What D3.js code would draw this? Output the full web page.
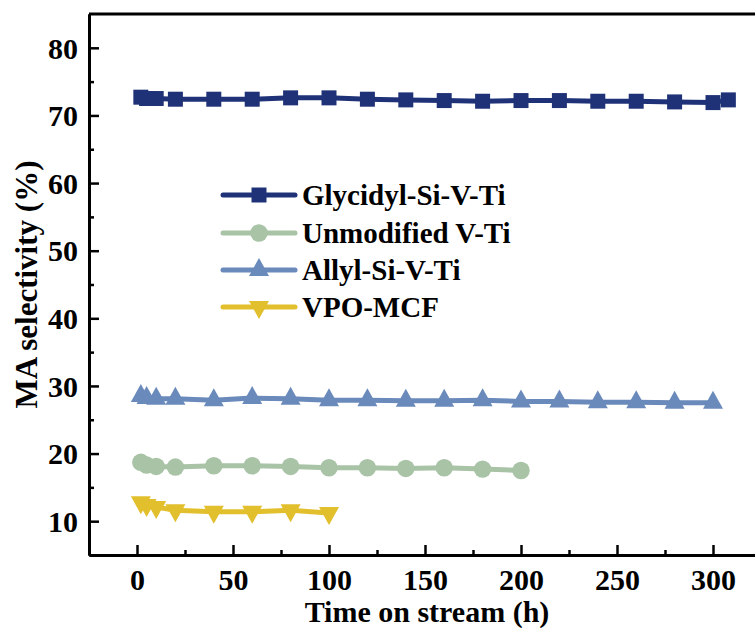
<!DOCTYPE html>
<html>
<head>
<meta charset="utf-8">
<script src="https://cdn.jsdelivr.net/npm/d3@7"></script>
<style>
  html, body { margin: 0; padding: 0; background: #fff; }
  svg { display: block; }
  svg text { font-family: "Liberation Serif", "Times New Roman", serif; font-weight: bold; }
</style>
</head>
<body>
<svg id="chart" width="755" height="628"></svg>
<script>
// ---- data ----
const seriesNames = ["Glycidyl-Si-V-Ti", "Unmodified V-Ti", "Allyl-Si-V-Ti", "VPO-MCF"];
const glyX = [2, 5, 10, 20, 40, 60, 80, 100, 120, 140, 160, 180, 200, 220, 240, 260, 280, 300, 308];
const glyY = [72.7, 72.5, 72.5, 72.4, 72.4, 72.4, 72.6, 72.6, 72.4, 72.3, 72.2, 72.1, 72.2, 72.2, 72.1, 72.1, 72.0, 71.9, 72.3];
const unmodX = [2, 5, 10, 20, 40, 60, 80, 100, 120, 140, 160, 180, 200];
const unmodY = [18.7, 18.3, 18.1, 18.0, 18.2, 18.2, 18.1, 17.9, 17.9, 17.8, 17.9, 17.7, 17.5];
const allylX = [2, 5, 10, 20, 40, 60, 80, 100, 120, 140, 160, 180, 200, 220, 240, 260, 280, 300];
const allylY = [28.5, 28.2, 28.1, 28.1, 27.9, 28.2, 28.1, 27.9, 27.9, 27.8, 27.8, 27.9, 27.7, 27.7, 27.6, 27.6, 27.5, 27.5];
const vpoX = [2, 5, 10, 20, 40, 60, 80, 100];
const vpoY = [12.8, 12.4, 12.1, 11.6, 11.4, 11.4, 11.6, 11.2];
const xTicks = [0, 50, 100, 150, 200, 250, 300];
const yTicks = [10, 20, 30, 40, 50, 60, 70, 80];
const xTitle = "Time on stream (h)";
const yTitle = "MA selectivity (%)";

// ---- styles ----
const colors = ["#1f3278", "#a8c3a5", "#6a8abb", "#e2bf2c"];
const shapes = ["square", "circle", "triangleUp", "triangleDown"];

const svg = d3.select("#chart");
const L = 89, T = 14, B = 555;
const x = d3.scaleLinear().domain([-25, 325]).range([L, L + 350 * 1.92]);
const y = d3.scaleLinear().domain([5, 85]).range([B, T]);

function markerPath(shape) {
  if (shape === "square") return "M-7.5,-7.5H7.5V7.5H-7.5Z";
  if (shape === "circle") return d3.symbol(d3.symbolCircle, 240)();
  if (shape === "triangleUp") return "M0,-12L10,6L-10,6Z";
  return "M0,12L10,-6L-10,-6Z";
}

const series = [
  { xs: glyX, ys: glyY },
  { xs: unmodX, ys: unmodY },
  { xs: allylX, ys: allylY },
  { xs: vpoX, ys: vpoY }
];

// frame: top line
svg.append("line").attr("x1", L).attr("x2", 760).attr("y1", T).attr("y2", T)
  .attr("stroke", "#000").attr("stroke-width", 3);

// axes
const xMinor = d3.range(25, 326, 50);
const yMinor = d3.range(15, 80, 10);
const gx = svg.append("g").attr("transform", `translate(0,${B})`);
gx.call(d3.axisBottom(x).tickValues(xMinor).tickSizeInner(-5).tickSizeOuter(0).tickFormat(""));
gx.selectAll(".tick line").attr("stroke-width", 2.5);
const gx2 = svg.append("g").attr("transform", `translate(0,${B})`);
gx2.call(d3.axisBottom(x).tickValues(xTicks).tickSizeInner(-10).tickSizeOuter(0).tickFormat(d3.format("d")));
gx2.selectAll(".tick line").attr("stroke-width", 2.5);
gx2.selectAll(".tick text").attr("y", 35).attr("dy", 0).attr("font-size", 30).attr("fill", "#000");

const gy = svg.append("g").attr("transform", `translate(${L},0)`);
gy.call(d3.axisLeft(y).tickValues(yMinor).tickSizeInner(-5).tickSizeOuter(0).tickFormat(""));
gy.selectAll(".tick line").attr("stroke-width", 2.5);
const gy2 = svg.append("g").attr("transform", `translate(${L},0)`);
gy2.call(d3.axisLeft(y).tickValues(yTicks).tickSizeInner(-10).tickSizeOuter(0).tickFormat(d3.format("d")));
gy2.selectAll(".tick line").attr("stroke-width", 2.5);
gy2.selectAll(".tick text").attr("x", -11).attr("dy", "0.34em").attr("font-size", 30).attr("fill", "#000");
svg.selectAll(".domain").attr("stroke-width", 3);
svg.selectAll("g").attr("font-family", null);

// series
const line = d3.line().x(d => x(d[0])).y(d => y(d[1]));
series.forEach((s, i) => {
  const pts = s.xs.map((v, k) => [v, s.ys[k]]);
  svg.append("path").datum(pts).attr("d", line)
    .attr("fill", "none").attr("stroke", colors[i]).attr("stroke-width", 5)
    .attr("stroke-linejoin", "round");
  svg.append("g").selectAll("path").data(pts).join("path")
    .attr("d", markerPath(shapes[i]))
    .attr("transform", d => `translate(${x(d[0])},${y(d[1])})`)
    .attr("fill", colors[i]);
});

// legend
const legY = [195, 233, 270, 307];
const lg = svg.append("g");
seriesNames.forEach((name, i) => {
  lg.append("line").attr("x1", 223).attr("x2", 295).attr("y1", legY[i]).attr("y2", legY[i])
    .attr("stroke", colors[i]).attr("stroke-width", 5).attr("stroke-linecap", "round");
  lg.append("path").attr("d", markerPath(shapes[i]))
    .attr("transform", `translate(259,${legY[i]})`).attr("fill", colors[i]);
  lg.append("text").attr("x", 302).attr("y", legY[i] + 9.5)
    .attr("font-size", 29).attr("fill", "#000").text(name);
});

// axis titles
svg.append("text").attr("x", 427).attr("y", 622).attr("text-anchor", "middle")
  .attr("font-size", 30).attr("fill", "#000").text(xTitle);
svg.append("text").attr("transform", `translate(37,${(T + B) / 2}) rotate(-90)`)
  .attr("text-anchor", "middle").attr("font-size", 31).attr("fill", "#000").text(yTitle);
</script>
</body>
</html>
